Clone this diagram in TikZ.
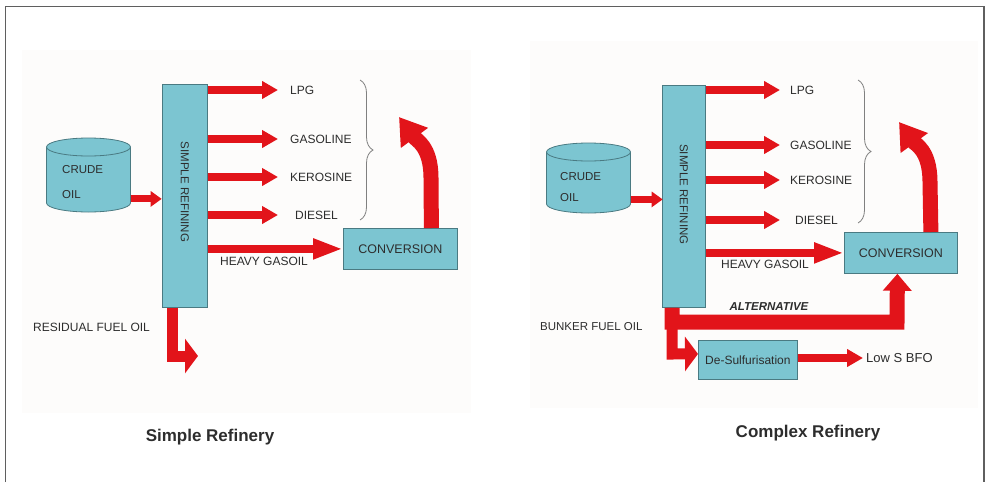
\documentclass[tikz,border=0pt]{standalone}
\usepackage{fontspec}
\setmainfont{Liberation Sans}
\usetikzlibrary{arrows.meta,decorations.pathreplacing,calc}

\definecolor{tealfill}{RGB}{124,197,209}
\definecolor{tealline}{RGB}{74,122,130}
\definecolor{flowred}{RGB}{226,20,26}
\definecolor{inkgray}{RGB}{45,45,45}
\definecolor{framegray}{RGB}{95,95,95}
\definecolor{panelbg}{RGB}{253,252,251}

% storage tank: name, centre x, top-ellipse y, bottom-ellipse y
\newcommand{\drawtank}[4]{%
  \fill[tealfill] (#2,#4) ellipse [x radius=42, y radius=9];
  \draw[tealline, line width=0.8pt] (#2,#4) ellipse [x radius=42, y radius=9];
  \fill[tealfill] ({#2-42},#3) rectangle ({#2+42},#4);
  \draw[tealline, line width=0.8pt] ({#2-42},#3) -- ({#2-42},#4) ({#2+42},#3) -- ({#2+42},#4);
  \draw[tealline, line width=0.8pt, fill=tealfill] (#2,#3) ellipse [x radius=42, y radius=9];
  \node[minimum width=84pt, minimum height=72pt, inner sep=0] (#1) at (#2,{(#3+#4)/2}) {};
}

\begin{document}
\begin{tikzpicture}[x=1pt, y=-1pt,
  unitbox/.style={draw=tealline, fill=tealfill, line width=0.8pt, inner sep=0},
  coltext/.style={font=\fontsize{11.5}{12}\selectfont, text=inkgray, inner sep=0, rotate=-90},
  lbl/.style={font=\fontsize{12}{13}\selectfont, text=inkgray, inner sep=0},
  boxtext/.style={font=\fontsize{12.5}{13}\selectfont, text=inkgray},
  title/.style={font=\bfseries\fontsize{17}{18}\selectfont, text=inkgray, inner sep=0},
  brace/.style={draw=gray, line width=0.8pt, decorate, decoration={brace, amplitude=13pt}},
  feed/.style={draw=flowred, line width=7pt, -{Triangle[length=11pt, width=15pt]}},
  flow/.style={draw=flowred, line width=8pt, -{Triangle[length=16pt, width=17pt]}},
  longflow/.style={draw=flowred, line width=8pt, -{Triangle[length=30pt, width=19pt]}},
  bigflow/.style={draw=flowred, line width=15pt, -{Triangle[length=26pt, width=32pt]}},
  bentflow/.style={draw=flowred, line width=11pt, line join=miter, -{Triangle[length=13pt, width=34pt]}},
  altflow/.style={draw=flowred, line width=15pt, line join=miter, -{Triangle[length=17pt, width=28pt]}},
]
\useasboundingbox (0,0) rectangle (985,482);

% faint backgrounds of the two schemes
\fill[panelbg] (22,50) rectangle (471,413);
\fill[panelbg] (530,41) rectangle (978,408);

% frame, open at the bottom
\draw[framegray, line width=1.8pt] (5.5,482) -- (5.5,6.5) -- (984,6.5) -- (984,482);

% ================= simple refinery =================
\drawtank{tankA}{88.5}{147}{203}
\node[lbl, font=\fontsize{11.5}{25}\selectfont, align=left, anchor=west] (crudeA) at (62,182) {CRUDE\\OIL};

\node[unitbox, minimum width=45pt, minimum height=223pt, anchor=north west] (colA) at (162,84) {};
\node[coltext] (colAtxt) at ($(colA.center)+(0,-4)$) {SIMPLE REFINING};

\node[lbl, anchor=west] (lpgA) at (290,90) {LPG};
\node[lbl, anchor=west] (gasA) at (290,139) {GASOLINE};
\node[lbl, anchor=west] (kerA) at (290,177) {KEROSINE};
\node[lbl, anchor=west] (dieA) at (295,215) {DIESEL};

\node[unitbox, minimum width=114pt, minimum height=41pt, anchor=north west] (convA) at (343,228) {};
\node[boxtext] (convAtxt) at (convA.center) {CONVERSION};
\node[lbl] (hgoA) at (264,261) {HEAVY GASOIL};
\node[lbl, anchor=west] (resA) at (33,327) {RESIDUAL FUEL OIL};

\draw[feed] (tankA.east |- colA.west) ++(0,3) -- ++(31,0);
\draw[flow] (colA.east |- lpgA.west) -- ([xshift=-12pt]lpgA.west);
\draw[flow] (colA.east |- gasA.west) -- ([xshift=-12pt]gasA.west);
\draw[flow] (colA.east |- kerA.west) -- ([xshift=-12pt]kerA.west);
\draw[flow] (colA.east |- dieA.west) -- ([xshift=-17pt]dieA.west);
\draw[longflow] (colA.east |- convA.west) -- (convA.west);

\coordinate (backA) at (399,117);
\draw[bigflow] ([xshift=31pt]convA.north) -- (431,178) .. controls (431,146) and (416,140) .. (backA);

\coordinate (resoutA) at (198,356);
\draw[bentflow] ([xshift=10pt]colA.south west) -- (172,356) -- (resoutA);

\draw[brace] (360,80) -- (360,220);

\node[title] (titleA) at (210,437) {Simple Refinery};

% ================= complex refinery =================
\drawtank{tankB}{588.5}{152}{204}
\node[lbl, font=\fontsize{11.5}{21}\selectfont, align=left, anchor=west] (crudeB) at (560,187) {CRUDE\\OIL};

\node[unitbox, minimum width=43pt, minimum height=222pt, anchor=north west] (colB) at (662,85) {};
\node[coltext] (colBtxt) at ($(colB.center)+(0,-2)$) {SIMPLE REFINING};

\node[lbl, anchor=west] (lpgB) at (790,90) {LPG};
\node[lbl, anchor=west] (gasB) at (790,145) {GASOLINE};
\node[lbl, anchor=west] (kerB) at (790,180) {KEROSINE};
\node[lbl, anchor=west] (dieB) at (795,220) {DIESEL};

\node[unitbox, minimum width=113pt, minimum height=41pt, anchor=north west] (convB) at (844,232) {};
\node[boxtext] (convBtxt) at (convB.center) {CONVERSION};
\node[lbl] (hgoB) at (765,264) {HEAVY GASOIL};

\node[lbl, font=\bfseries\itshape\fontsize{11.5}{12}\selectfont] (altB) at (769,307) {ALTERNATIVE};
\node[lbl, font=\fontsize{11.5}{12}\selectfont, anchor=west] (bunB) at (540,327) {BUNKER FUEL OIL};

\node[unitbox, minimum width=99pt, minimum height=39pt, anchor=north west] (dsB) at (698,340) {};
\node[boxtext, font=\fontsize{12}{13}\selectfont] (dsBtxt) at (dsB.center) {De-Sulfurisation};
\node[lbl, font=\fontsize{13}{14}\selectfont, anchor=west] (lowB) at (866,358) {Low S BFO};

\draw[feed] (tankB.east |- colB.west) ++(0,3) -- ++(32,0);
\draw[flow] (colB.east |- lpgB.west) -- ([xshift=-10pt]lpgB.west);
\draw[flow] (colB.east |- gasB.west) -- ([xshift=-10pt]gasB.west);
\draw[flow] (colB.east |- kerB.west) -- ([xshift=-10pt]kerB.west);
\draw[flow] (colB.east |- dieB.west) -- ([xshift=-15pt]dieB.west);
\draw[longflow] (colB.east |- convB.west) -- (convB.west);

\coordinate (backB) at (899,122);
\draw[bigflow] ([xshift=30pt]convB.north) -- (930,182) .. controls (930,150) and (915,144) .. (backB);

\draw[altflow] ([xshift=10pt]colB.south west) -- (672,322) -- (897,322) -- ([xshift=-3.5pt]convB.south);
\draw[bentflow] ([xshift=10pt]colB.south west) -- (672,354) -- ([yshift=6pt]dsB.west);
\draw[flow] (dsB.east |- lowB.west) -- ([xshift=-3pt]lowB.west);

\draw[brace] (858,80) -- (858,223);

\node[title] (titleB) at (808,433) {Complex Refinery};
\end{tikzpicture}
\end{document}
